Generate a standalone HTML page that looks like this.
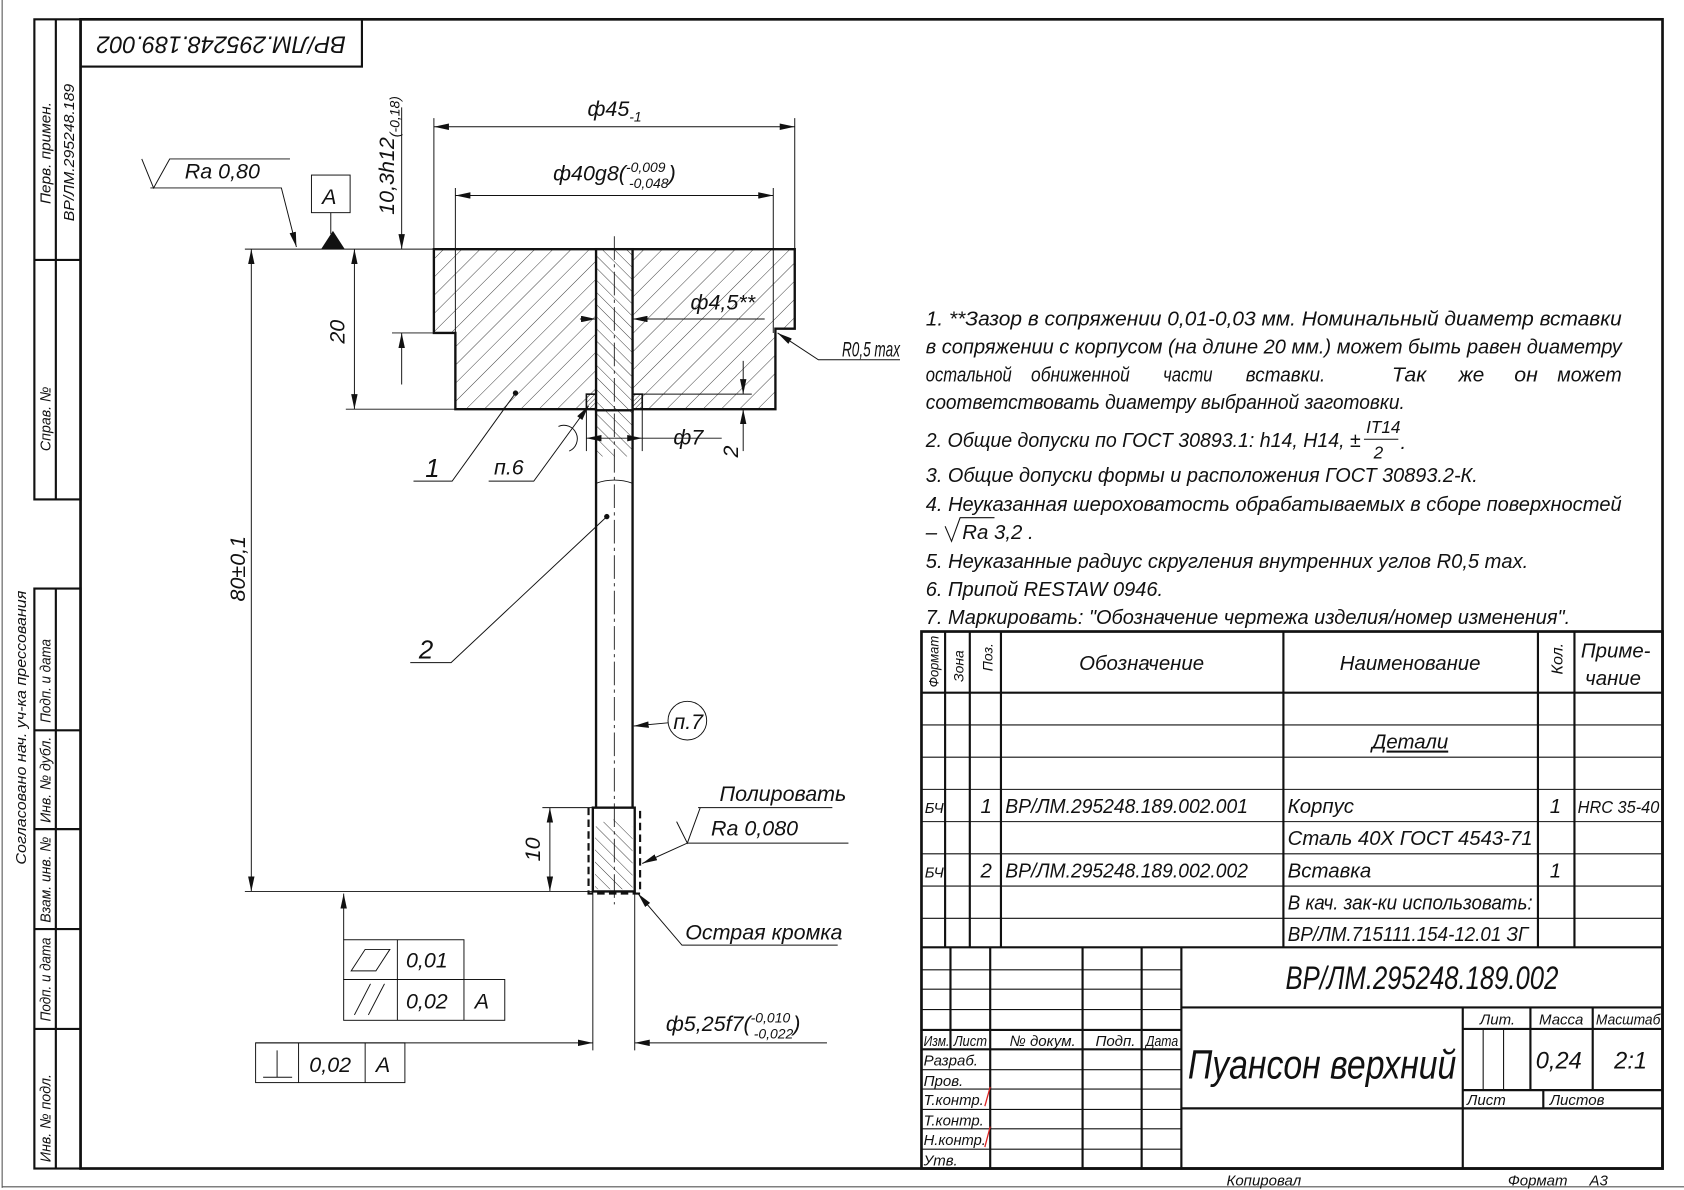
<!DOCTYPE html>
<html><head><meta charset="utf-8">
<style>
html,body{margin:0;padding:0;background:#fff;}
svg{display:block;}
text{font-family:"Liberation Sans Narrow","Liberation Sans","Noto Sans CJK SC",sans-serif;font-style:italic;fill:#111;}
.k{stroke:#111;fill:none;}
</style></head>
<body>
<svg width="1684" height="1190" viewBox="0 0 1568 1108" preserveAspectRatio="none" xmlns="http://www.w3.org/2000/svg">
<defs>
<marker id="a" viewBox="0 0 14 6" refX="14" refY="3" markerWidth="14" markerHeight="6" markerUnits="userSpaceOnUse" orient="auto-start-reverse"><path d="M0,0 L14,3 L0,6 z" fill="#111"/></marker>
<pattern id="h1" width="12" height="12" patternUnits="userSpaceOnUse" patternTransform="rotate(45)"><line x1="0" y1="0" x2="0" y2="12" stroke="#222" stroke-width="0.8"/></pattern>
<pattern id="h2" width="8" height="8" patternUnits="userSpaceOnUse" patternTransform="rotate(-45)"><line x1="0" y1="0" x2="0" y2="8" stroke="#222" stroke-width="0.8"/></pattern>
<pattern id="h3" width="3" height="3" patternUnits="userSpaceOnUse" patternTransform="rotate(45)"><line x1="0" y1="0" x2="0" y2="3" stroke="#222" stroke-width="0.8"/></pattern>
</defs>
<rect width="1568" height="1108" fill="#fff"/>
<line x1="2" y1="0" x2="2" y2="1106" stroke="#555" stroke-width="1"/>
<line x1="2" y1="1105" x2="1568" y2="1105" stroke="#555" stroke-width="1"/>
<rect x="75" y="18" width="1473" height="1070" class="k" stroke-width="2.5"/>
<g class="k" stroke-width="2">
<rect x="32" y="18" width="43" height="447"/>
<line x1="52" y1="18" x2="52" y2="465"/>
<line x1="32" y1="242" x2="75" y2="242"/>
<rect x="32" y="548" width="43" height="540"/>
<line x1="52" y1="548" x2="52" y2="1088"/>
<line x1="32" y1="680" x2="75" y2="680"/>
<line x1="32" y1="772" x2="75" y2="772"/>
<line x1="32" y1="865" x2="75" y2="865"/>
<line x1="32" y1="958" x2="75" y2="958"/>
<rect x="75" y="18" width="262" height="44"/>
</g>
<g font-size="14">
<text transform="translate(47,190) rotate(-90)" textLength="95" lengthAdjust="spacingAndGlyphs">Перв. примен.</text>
<text transform="translate(69,206) rotate(-90)" textLength="128" lengthAdjust="spacingAndGlyphs">ВР/ЛМ.295248.189</text>
<text transform="translate(47,420) rotate(-90)" textLength="60" lengthAdjust="spacingAndGlyphs">Справ. №</text>
<text transform="translate(47,673) rotate(-90)" textLength="78" lengthAdjust="spacingAndGlyphs">Подп. и дата</text>
<text transform="translate(47,766) rotate(-90)" textLength="80" lengthAdjust="spacingAndGlyphs">Инв. № дубл.</text>
<text transform="translate(47,859) rotate(-90)" textLength="80" lengthAdjust="spacingAndGlyphs">Взам. инв. №</text>
<text transform="translate(47,951) rotate(-90)" textLength="78" lengthAdjust="spacingAndGlyphs">Подп. и дата</text>
<text transform="translate(47,1082) rotate(-90)" textLength="82" lengthAdjust="spacingAndGlyphs">Инв. № подл.</text>
<text transform="translate(24,805) rotate(-90)" textLength="255" lengthAdjust="spacingAndGlyphs">Согласовано нач. уч-ка прессования</text>
</g>
<text transform="translate(206,40) rotate(180)" font-size="22" text-anchor="middle" dominant-baseline="middle" textLength="232" lengthAdjust="spacingAndGlyphs">ВР/ЛМ.295248.189.002</text>

<path d="M404,232 H740 V306 H722 V381 H424 V310 H404 Z" fill="url(#h1)" stroke="#111" stroke-width="2.2"/>
<rect x="555" y="232" width="34" height="150" fill="#fff"/>
<rect x="555" y="232" width="34" height="150" fill="url(#h2)" stroke="#111" stroke-width="2.2"/>
<rect x="546" y="367" width="9" height="14" fill="url(#h3)" stroke="#111" stroke-width="1.5"/>
<rect x="589" y="367" width="9" height="14" fill="url(#h3)" stroke="#111" stroke-width="1.5"/>
<rect x="555" y="382" width="34" height="43" fill="url(#h2)"/>
<line x1="555" y1="381" x2="555" y2="752" stroke="#111" stroke-width="2.2"/>
<line x1="589" y1="381" x2="589" y2="752" stroke="#111" stroke-width="2.2"/>
<path d="M555,450 Q572,444 589,450" class="k" stroke-width="0.8"/>
<rect x="552" y="752" width="39" height="78" fill="#fff" stroke="#111" stroke-width="2.2"/>
<path d="M554,770 Q572,756 589,770 V828 H554 Z" fill="url(#h2)"/>
<path d="M548,752 V832 H596 V752" class="k" stroke-width="2" stroke-dasharray="7,4"/>
<line x1="572" y1="220" x2="572" y2="842" class="k" stroke-width="0.8" stroke-dasharray="22,4,3,4"/>

<g class="k" stroke-width="0.9">
<line x1="404" y1="110" x2="404" y2="232"/><line x1="740" y1="110" x2="740" y2="306"/>
<line x1="404" y1="118" x2="740" y2="118" marker-start="url(#a)" marker-end="url(#a)"/>
<line x1="424" y1="175" x2="424" y2="310"/><line x1="720" y1="175" x2="720" y2="310"/>
<line x1="424" y1="182" x2="720" y2="182" marker-start="url(#a)" marker-end="url(#a)"/>
<line x1="228" y1="232" x2="404" y2="232"/>
<line x1="374" y1="100" x2="374" y2="232" marker-end="url(#a)"/>
<line x1="374" y1="358" x2="374" y2="310" marker-end="url(#a)"/>
<line x1="365" y1="310" x2="404" y2="310"/>
<line x1="330" y1="232" x2="330" y2="381" marker-start="url(#a)" marker-end="url(#a)"/>
<line x1="322" y1="381" x2="424" y2="381"/>
<line x1="234" y1="232" x2="234" y2="830" marker-start="url(#a)" marker-end="url(#a)"/>
<line x1="228" y1="830" x2="552" y2="830"/>
<path d="M132,148 L143,175 L158,148 H270"/>
<path d="M140,175 H262 L276,230" marker-end="url(#a)"/>
<rect x="290" y="163" width="36" height="35"/>
<line x1="308" y1="198" x2="308" y2="218"/>
<line x1="540" y1="297" x2="555" y2="297" marker-end="url(#a)"/>
<line x1="605" y1="297" x2="589" y2="297" marker-end="url(#a)"/>
<line x1="589" y1="297" x2="712" y2="297"/>
<path d="M838,335 H762 L724,310" marker-end="url(#a)"/>
<line x1="546" y1="381" x2="546" y2="420"/><line x1="598" y1="381" x2="598" y2="420"/>
<line x1="572" y1="408" x2="546" y2="408" marker-end="url(#a)"/>
<line x1="572" y1="408" x2="598" y2="408" marker-end="url(#a)"/>
<line x1="598" y1="408" x2="672" y2="408"/>
<line x1="598" y1="367" x2="700" y2="367"/>
<line x1="692" y1="336" x2="692" y2="367" marker-end="url(#a)"/>
<line x1="692" y1="420" x2="692" y2="381" marker-end="url(#a)"/>
<path d="M385,448 H421 L480,366"/>
<path d="M455,448 H497 L548,378" marker-end="url(#a)"/>
<path d="M382,617 H420 L565,481"/>
<path d="M520,397 A10,10 0 0 1 530,420"/>
<circle cx="640" cy="671" r="18"/>
<line x1="622" y1="673" x2="590" y2="676" marker-end="url(#a)"/>
<line x1="505" y1="752" x2="552" y2="752"/>
<line x1="512" y1="752" x2="512" y2="830" marker-start="url(#a)" marker-end="url(#a)"/>
<line x1="650" y1="752" x2="775" y2="752"/>
<path d="M630,765 L640,785 L652,752"/>
<path d="M790,785 H640 L598,804" marker-end="url(#a)"/>
<path d="M780,880 H635 L594,832" marker-end="url(#a)"/>
<line x1="552" y1="830" x2="552" y2="978"/><line x1="591" y1="830" x2="591" y2="978"/>
<line x1="238" y1="971" x2="552" y2="971" marker-end="url(#a)"/>
<line x1="770" y1="971" x2="591" y2="971" marker-end="url(#a)"/>
<line x1="320" y1="875" x2="320" y2="832" marker-end="url(#a)"/>
<rect x="320" y="875" width="112" height="37"/>
<line x1="370" y1="875" x2="370" y2="950"/>
<rect x="320" y="912" width="150" height="38"/>
<line x1="432" y1="912" x2="432" y2="950"/>
<path d="M327,904 L340,884 H363 L350,904 Z"/>
<line x1="330" y1="945" x2="345" y2="916"/><line x1="343" y1="945" x2="358" y2="916"/>
<rect x="238" y="971" width="139" height="37"/>
<line x1="278" y1="971" x2="278" y2="1008"/><line x1="340" y1="971" x2="340" y2="1008"/>
<line x1="258" y1="978" x2="258" y2="1003"/><line x1="245" y1="1003" x2="272" y2="1003"/>
</g>
<path d="M299,232 L310,215 L321,232 Z" fill="#111"/>
<circle cx="480" cy="366" r="2.5" fill="#111"/>
<circle cx="565" cy="481" r="2.5" fill="#111"/>

<g font-size="20">
<text x="547" y="108">ф45<tspan font-size="13" dy="5">-1</tspan></text>
<text x="515" y="168">ф40g8(<tspan font-size="13" dy="-8">-0,009</tspan><tspan font-size="13" dx="-34" dy="15">-0,048</tspan><tspan dy="-7">)</tspan></text>
<text transform="translate(367,200) rotate(-90)">10,3h12<tspan font-size="13" dy="5">(-0,18)</tspan></text>
<text transform="translate(321,320) rotate(-90)">20</text>
<text transform="translate(228,560) rotate(-90)">80±0,1</text>
<text x="172" y="166">Ra 0,80</text>
<text x="300" y="190">A</text>
<text x="643" y="288">ф4,5**</text>
<text x="784" y="332" textLength="54" lengthAdjust="spacingAndGlyphs">R0,5 max</text>
<text x="627" y="414">ф7</text>
<text transform="translate(687,426) rotate(-90)">2</text>
<text x="396" y="444" font-size="24">1</text>
<text x="460" y="442">п.6</text>
<text x="390" y="613" font-size="24">2</text>
<text x="627" y="679">п.7</text>
<text transform="translate(503,802) rotate(-90)">10</text>
<text x="670" y="746">Полировать</text>
<text x="662" y="778">Ra 0,080</text>
<text x="638" y="875">Острая кромка</text>
<text x="378" y="901">0,01</text>
<text x="378" y="939">0,02</text>
<text x="442" y="939">A</text>
<text x="288" y="998">0,02</text>
<text x="350" y="998">A</text>
<text x="620" y="960">ф5,25f7(<tspan font-size="13" dy="-8">-0,010</tspan><tspan font-size="13" dx="-34" dy="15">-0,022</tspan><tspan dy="-7">)</tspan></text>
</g>

<g font-size="19">
<text x="862" y="303" textLength="648" lengthAdjust="spacingAndGlyphs">1.  **Зазор в сопряжении  0,01-0,03 мм. Номинальный диаметр  вставки</text>
<text x="862" y="329" textLength="648" lengthAdjust="spacingAndGlyphs">в сопряжении с корпусом (на длине 20 мм.) может быть равен диаметру</text>
<text x="862" y="355" textLength="80" lengthAdjust="spacingAndGlyphs">остальной</text>
<text x="960" y="355" textLength="92" lengthAdjust="spacingAndGlyphs">обниженной</text>
<text x="1083" y="355" textLength="46" lengthAdjust="spacingAndGlyphs">части</text>
<text x="1160" y="355" textLength="74" lengthAdjust="spacingAndGlyphs">вставки.</text>
<text x="1296" y="355" textLength="32" lengthAdjust="spacingAndGlyphs">Так</text>
<text x="1358" y="355" textLength="24" lengthAdjust="spacingAndGlyphs">же</text>
<text x="1410" y="355" textLength="22" lengthAdjust="spacingAndGlyphs">он</text>
<text x="1450" y="355" textLength="60" lengthAdjust="spacingAndGlyphs">может</text>
<text x="862" y="381" textLength="446" lengthAdjust="spacingAndGlyphs">соответствовать диаметру выбранной заготовки.</text>
<text x="862" y="416" textLength="405" lengthAdjust="spacingAndGlyphs">2. Общие допуски по ГОСТ 30893.1: h14, H14, ±</text>
<text x="1272" y="403" font-size="16">IT14</text>
<line x1="1270" y1="409" x2="1302" y2="409" stroke="#111" stroke-width="1"/>
<text x="1279" y="427" font-size="16">2</text>
<text x="1304" y="418">.</text>
<text x="862" y="449" textLength="514" lengthAdjust="spacingAndGlyphs">3. Общие допуски формы и расположения ГОСТ 30893.2-К.</text>
<text x="862" y="476" textLength="648" lengthAdjust="spacingAndGlyphs">4. Неуказанная шероховатость обрабатываемых в сборе поверхностей</text>
<text x="862" y="502">–</text>
<path d="M880,490 L886,504 L894,482 H926" stroke="#111" fill="none" stroke-width="1"/>
<text x="896" y="502">Ra 3,2 .</text>
<text x="862" y="529" textLength="561" lengthAdjust="spacingAndGlyphs">5. Неуказанные радиус скругления внутренних углов R0,5 max.</text>
<text x="862" y="555" textLength="221" lengthAdjust="spacingAndGlyphs">6. Припой RESTAW 0946.</text>
<text x="862" y="581" textLength="600" lengthAdjust="spacingAndGlyphs">7. Маркировать: "Обозначение чертежа изделия/номер изменения".</text>
</g>

<g class="k" stroke-width="2">
<rect x="858" y="588" width="690" height="500" stroke-width="2.5"/>
<line x1="858" y1="645" x2="1548" y2="645"/>
<line x1="880" y1="588" x2="880" y2="882"/><line x1="903" y1="588" x2="903" y2="882"/>
<line x1="932" y1="588" x2="932" y2="882"/><line x1="1195" y1="588" x2="1195" y2="882"/>
<line x1="1432" y1="588" x2="1432" y2="882"/><line x1="1466" y1="588" x2="1466" y2="882"/>
</g>
<g class="k" stroke-width="1">
<line x1="858" y1="675" x2="1548" y2="675"/><line x1="858" y1="705" x2="1548" y2="705"/>
<line x1="858" y1="735" x2="1548" y2="735"/><line x1="858" y1="765" x2="1548" y2="765"/>
<line x1="858" y1="795" x2="1548" y2="795"/><line x1="858" y1="825" x2="1548" y2="825"/>
<line x1="858" y1="855" x2="1548" y2="855"/>
</g>
<g font-size="19">
<text transform="translate(874,640) rotate(-90)" font-size="13" textLength="48" lengthAdjust="spacingAndGlyphs">Формат</text>
<text transform="translate(897,635) rotate(-90)" font-size="13">Зона</text>
<text transform="translate(924,625) rotate(-90)" font-size="13">Поз.</text>
<text x="1063" y="624" text-anchor="middle">Обозначение</text>
<text x="1313" y="624" text-anchor="middle">Наименование</text>
<text transform="translate(1455,628) rotate(-90)" font-size="15">Кол.</text>
<text x="1472" y="612">Приме-</text>
<text x="1476" y="638">чание</text>
<text x="1313" y="697" text-anchor="middle" text-decoration="underline">Детали</text>
<text x="861" y="757" font-size="14">БЧ</text>
<text x="913" y="757">1</text>
<text x="936" y="757" textLength="226" lengthAdjust="spacingAndGlyphs">ВР/ЛМ.295248.189.002.001</text>
<text x="1199" y="757">Корпус</text>
<text x="1443" y="757">1</text>
<text x="1469" y="757" font-size="16" textLength="76" lengthAdjust="spacingAndGlyphs">HRC 35-40</text>
<text x="1199" y="787" textLength="228" lengthAdjust="spacingAndGlyphs">Сталь 40Х ГОСТ 4543-71</text>
<text x="861" y="817" font-size="14">БЧ</text>
<text x="913" y="817">2</text>
<text x="936" y="817" textLength="226" lengthAdjust="spacingAndGlyphs">ВР/ЛМ.295248.189.002.002</text>
<text x="1199" y="817">Вставка</text>
<text x="1443" y="817">1</text>
<text x="1199" y="847" textLength="228" lengthAdjust="spacingAndGlyphs">В кач. зак-ки использовать:</text>
<text x="1199" y="876" textLength="224" lengthAdjust="spacingAndGlyphs">ВР/ЛМ.715111.154-12.01 ЗГ</text>
</g>

<g class="k" stroke-width="2">
<line x1="858" y1="882" x2="1548" y2="882"/>
<line x1="1100" y1="882" x2="1100" y2="1088"/>
<line x1="1100" y1="938" x2="1548" y2="938"/>
<line x1="1100" y1="1032" x2="1548" y2="1032"/>
<line x1="1362" y1="938" x2="1362" y2="1088"/>
<line x1="1362" y1="958" x2="1548" y2="958"/>
<line x1="1362" y1="1015" x2="1548" y2="1015"/>
<line x1="1425" y1="938" x2="1425" y2="1015"/>
<line x1="1483" y1="938" x2="1483" y2="1015"/>
<line x1="1437" y1="1015" x2="1437" y2="1032"/>
<line x1="885" y1="882" x2="885" y2="977"/>
<line x1="922" y1="882" x2="922" y2="1088"/>
<line x1="1008" y1="882" x2="1008" y2="1088"/>
<line x1="1063" y1="882" x2="1063" y2="1088"/>
<line x1="858" y1="959" x2="1100" y2="959"/>
<line x1="858" y1="977" x2="1100" y2="977"/>
</g>
<g class="k" stroke-width="1">
<line x1="1381" y1="958" x2="1381" y2="1015"/><line x1="1400" y1="958" x2="1400" y2="1015"/>
<line x1="858" y1="903" x2="1100" y2="903"/><line x1="858" y1="921" x2="1100" y2="921"/>
<line x1="858" y1="940" x2="1100" y2="940"/>
<line x1="858" y1="996" x2="1100" y2="996"/><line x1="858" y1="1014" x2="1100" y2="1014"/>
<line x1="858" y1="1033" x2="1100" y2="1033"/><line x1="858" y1="1051" x2="1100" y2="1051"/>
<line x1="858" y1="1070" x2="1100" y2="1070"/>
</g>
<line x1="922" y1="1012" x2="917" y2="1030" stroke="#d22" stroke-width="1.2"/>
<line x1="922" y1="1049" x2="917" y2="1068" stroke="#d22" stroke-width="1.2"/>
<g font-size="14">
<text x="860" y="974" textLength="24" lengthAdjust="spacingAndGlyphs">Изм.</text><text x="888" y="974" textLength="31" lengthAdjust="spacingAndGlyphs">Лист</text>
<text x="940" y="974">№ докум.</text><text x="1020" y="974">Подп.</text><text x="1067" y="974" textLength="30" lengthAdjust="spacingAndGlyphs">Дата</text>
<text x="860" y="992">Разраб.</text><text x="860" y="1011">Пров.</text>
<text x="860" y="1029" textLength="56" lengthAdjust="spacingAndGlyphs">Т.контр.</text><text x="860" y="1048" textLength="56" lengthAdjust="spacingAndGlyphs">Т.контр.</text>
<text x="860" y="1066" textLength="58" lengthAdjust="spacingAndGlyphs">Н.контр.</text><text x="860" y="1085">Утв.</text>
<text x="1378" y="954">Лит.</text><text x="1433" y="954">Масса</text><text x="1486" y="954" textLength="60" lengthAdjust="spacingAndGlyphs">Масштаб</text>
<text x="1366" y="1029">Лист</text><text x="1443" y="1029">Листов</text>
<text x="1142" y="1104">Копировал</text>
<text x="1404" y="1104">Формат</text><text x="1480" y="1104">А3</text>
</g>
<text x="1324" y="921" font-size="30" text-anchor="middle" textLength="254" lengthAdjust="spacingAndGlyphs">ВР/ЛМ.295248.189.002</text>
<text x="1106" y="1004" font-size="38" textLength="250" lengthAdjust="spacingAndGlyphs">Пуансон верхний</text>
<text x="1430" y="995" font-size="22">0,24</text>
<text x="1503" y="995" font-size="22">2:1</text>
</svg>
</body></html>
